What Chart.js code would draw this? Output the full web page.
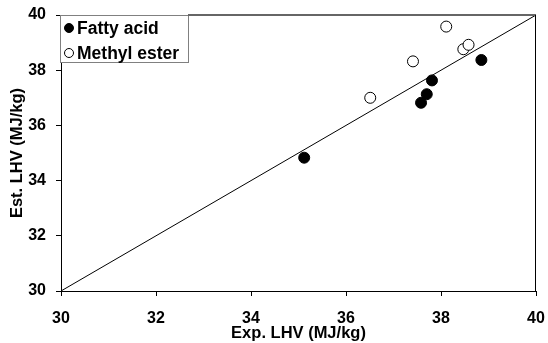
<!DOCTYPE html>
<html>
<head>
<meta charset="utf-8">
<script src="https://cdn.jsdelivr.net/npm/chart.js@4/dist/chart.umd.min.js"></script>
<style>
  html, body { margin: 0; padding: 0; background: #fff; }
  #wrap { width: 548px; height: 343px; }
</style>
</head>
<body>
<div id="wrap"><canvas id="myChart"></canvas></div>
<script>
// valores (Exp. LHV x Est. LHV)
const fattyAcidExp = [35.12, 37.58, 37.70, 37.81, 38.85];
const fattyAcidEst = [34.83, 36.82, 37.13, 37.63, 38.37];
const methylEsterExp = [36.51, 37.41, 38.11, 38.47, 38.58];
const methylEsterEst = [37.00, 38.32, 39.58, 38.76, 38.92];
const parityLine = [30, 40];
const tickValues = [30, 32, 34, 36, 38, 40];

const toPoints = (xs, ys) => xs.map((x, i) => ({ x: x, y: ys[i] }));

const fontTicks = { family: "'Liberation Sans', Arial, sans-serif", size: 16, weight: 'bold' };
const fontTitle = { family: "'Liberation Sans', Arial, sans-serif", size: 16.5, weight: 'bold' };

// legenda desenhada dentro da área do gráfico
const insideLegend = {
    id: 'insideLegend',
    afterDraw(chart) {
        const ctx = chart.ctx;
        const area = chart.chartArea;
        const x0 = area.left - 1, y0 = area.top;
        const w = 128, h = 47;
        ctx.save();
        ctx.fillStyle = '#fff';
        ctx.fillRect(x0, y0, w, h);
        ctx.strokeStyle = '#808080';
        ctx.lineWidth = 1;
        ctx.strokeRect(x0 + 0.5, y0 + 0.5, w, h);
        ctx.font = 'bold 17.5px "Liberation Sans", Arial, sans-serif';
        ctx.textBaseline = 'middle';
        const items = chart.data.datasets.filter(d => !d.hideLegend);
        items.forEach((d, i) => {
            const cy = y0 + 13 + i * 25;
            ctx.beginPath();
            ctx.arc(x0 + 9, cy, 4.5, 0, Math.PI * 2);
            ctx.fillStyle = d.backgroundColor;
            ctx.fill();
            ctx.strokeStyle = '#000';
            ctx.lineWidth = 1;
            ctx.stroke();
            ctx.fillStyle = '#000';
            ctx.fillText(d.label, x0 + 17, cy + 1);
        });
        // moldura superior e direita
        ctx.strokeStyle = '#666';
        ctx.lineWidth = 2;
        ctx.beginPath();
        ctx.moveTo(x0 + w, area.top);
        ctx.lineTo(area.right, area.top);
        ctx.stroke();
        ctx.strokeStyle = '#000';
        ctx.lineWidth = 1;
        ctx.beginPath();
        ctx.moveTo(area.right - 0.5, area.top);
        ctx.lineTo(area.right - 0.5, area.bottom);
        ctx.stroke();
        ctx.restore();
    }
};

new Chart('myChart', {
    type: 'scatter',
    data: {
        datasets: [
            {
                label: 'Fatty acid',
                data: toPoints(fattyAcidExp, fattyAcidEst),
                backgroundColor: '#000',
                borderColor: '#000',
                pointRadius: 5.5,
                pointHoverRadius: 5.5
            },
            {
                label: 'Methyl ester',
                data: toPoints(methylEsterExp, methylEsterEst),
                backgroundColor: '#fff',
                borderColor: '#000',
                borderWidth: 1,
                pointRadius: 5.5,
                pointHoverRadius: 5.5
            },
            {
                label: 'y = x',
                type: 'line',
                hideLegend: true,
                data: toPoints(parityLine, parityLine),
                borderColor: '#000',
                borderWidth: 1,
                pointRadius: 0,
                fill: false,
                order: 5
            }
        ]
    },
    options: {
        responsive: true,
        maintainAspectRatio: false,
        animation: false,
        layout: { padding: { top: 15, right: 12, left: 0, bottom: 0 } },
        plugins: { legend: { display: false }, tooltip: { enabled: false } },
        scales: {
            x: {
                type: 'linear',
                min: 30, max: 40,
                afterBuildTicks: s => { s.ticks = tickValues.map(v => ({ value: v })); },
                afterFit: s => { s.height = 52; s.paddingLeft = 0; s.paddingRight = 0; },
                ticks: { color: '#000', font: fontTicks, padding: 13, maxRotation: 0 },
                grid: { drawOnChartArea: false, drawTicks: true, tickLength: 5, color: '#000' },
                border: { color: '#000', width: 1 },
                title: { display: true, text: 'Exp. LHV (MJ/kg)', color: '#000', font: fontTitle, padding: { top: 0, bottom: 0 } }
            },
            y: {
                type: 'linear',
                min: 30, max: 40,
                afterBuildTicks: s => { s.ticks = tickValues.map(v => ({ value: v })); },
                afterFit: s => { s.width = 61; s.paddingTop = 0; s.paddingBottom = 0; },
                ticks: { color: '#000', font: fontTicks, padding: 10 },
                grid: { drawOnChartArea: false, drawTicks: true, tickLength: 5, color: '#000' },
                border: { color: '#000', width: 1 },
                title: { display: true, text: 'Est. LHV (MJ/kg)', color: '#000', font: fontTitle, padding: { top: 8, bottom: 0 } }
            }
        }
    },
    plugins: [insideLegend]
});
</script>
</body>
</html>
